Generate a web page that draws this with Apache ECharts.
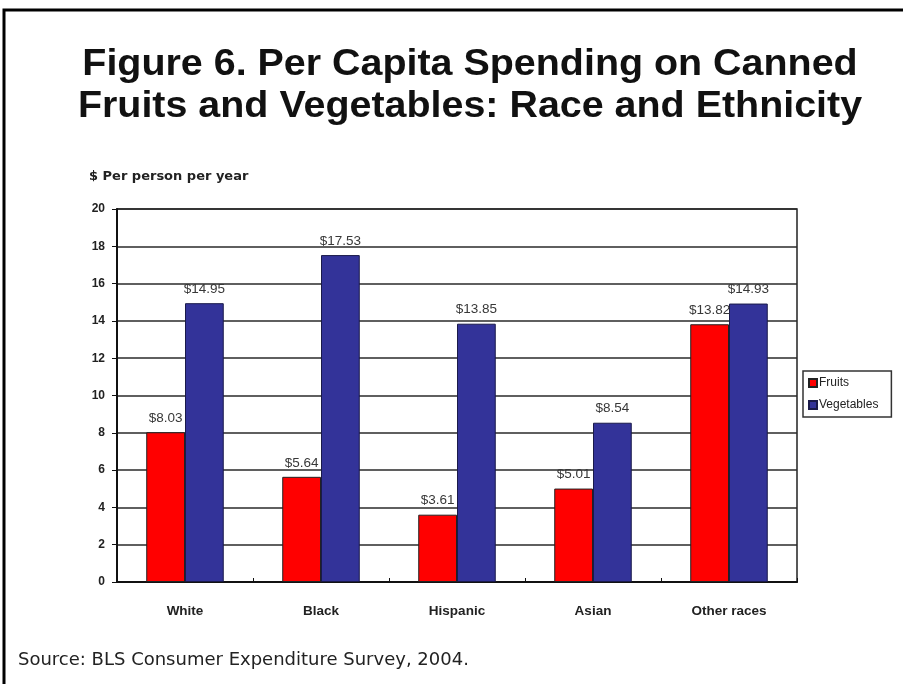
<!DOCTYPE html>
<html>
<head>
<meta charset="utf-8">
<script src="https://cdn.jsdelivr.net/npm/echarts@6/dist/echarts.min.js"></script>
<style>
  html, body { margin: 0; padding: 0; background: #fff; }
  #chart { width: 903px; height: 684px; }
</style>
</head>
<body>
<div id="chart"></div>
<script>
// Per capita spending on canned produce by race / ethnicity, 2004
const categories = ['White', 'Black', 'Hispanic', 'Asian', 'Other races'];
const fruits = [8.03, 5.64, 3.61, 5.01, 13.82];
const vegetables = [14.95, 17.53, 13.85, 8.54, 14.93];
const yTicks = [0, 2, 4, 6, 8, 10, 12, 14, 16, 18, 20];

const titleLines = [
  'Figure 6. Per Capita Spending on Canned',
  'Fruits and Vegetables: Race and Ethnicity'
];

const chart = echarts.init(document.getElementById('chart'));

const ARIAL = '"Liberation Sans", Arial, sans-serif';

const valueLabel = {
  show: true,
  position: 'top',
  distance: 7,
  color: '#383838',
  fontFamily: ARIAL,
  fontSize: 13.5,
  formatter: p => '$' + p.value.toFixed(2)
};

chart.setOption({
  animation: false,
  backgroundColor: '#fff',
  graphic: [
    {
      type: 'rect',
      shape: { x: 4, y: 10, width: 960, height: 720 },
      style: { fill: 'none', stroke: '#000', lineWidth: 3 },
      silent: true
    },
    {
      // two-line heading, slightly widened
      type: 'group',
      x: 470,
      y: 0,
      scaleX: 1.095,
      children: titleLines.map((line, i) => ({
        type: 'text',
        x: 0,
        y: 65 + i * 42,
        style: {
          text: line,
          font: 'bold 36px ' + ARIAL,
          fill: '#111',
          textAlign: 'center',
          textVerticalAlign: 'middle'
        }
      }))
    },
    {
      type: 'text',
      left: 89,
      top: 170,
      style: {
        text: '$ Per person per year',
        font: 'bold 13px "DejaVu Sans", Verdana, sans-serif',
        fill: '#222'
      }
    },
    {
      type: 'text',
      left: 18,
      top: 651,
      style: {
        text: 'Source: BLS Consumer Expenditure Survey, 2004.',
        font: '18px "DejaVu Sans", Verdana, sans-serif',
        fill: '#222'
      }
    }
  ],
  legend: {
    orient: 'vertical',
    left: 803,
    top: 371,
    icon: 'rect',
    itemWidth: 8,
    itemHeight: 8,
    itemGap: 10,
    padding: [6, 13, 6, 5],
    borderColor: '#333',
    borderWidth: 1.5,
    textStyle: {
      fontFamily: ARIAL,
      fontSize: 12,
      color: '#222',
      padding: [0, 0, 0, -3]
    },
    data: ['Fruits', 'Vegetables']
  },
  grid: {
    left: 117,
    top: 209,
    right: 106,
    bottom: 102,
    show: true,
    borderColor: '#222',
    borderWidth: 1.5
  },
  xAxis: {
    type: 'category',
    data: categories,
    axisLine: { lineStyle: { color: '#111', width: 2 } },
    axisTick: { show: true, inside: true, length: 4, lineStyle: { color: '#111' } },
    axisLabel: {
      margin: 22,
      color: '#222',
      fontWeight: 'bold',
      fontSize: 13.5,
      fontFamily: ARIAL
    }
  },
  yAxis: {
    type: 'value',
    min: yTicks[0],
    max: yTicks[yTicks.length - 1],
    interval: yTicks[1] - yTicks[0],
    axisLine: { show: true, lineStyle: { color: '#111', width: 2 } },
    axisTick: { show: true, length: 5, lineStyle: { color: '#111' } },
    axisLabel: {
      margin: 12,
      color: '#222',
      fontWeight: 'bold',
      fontSize: 12,
      fontFamily: ARIAL
    },
    splitLine: { lineStyle: { color: '#2a2a2a', width: 1.5 } }
  },
  series: [
    {
      name: 'Fruits',
      type: 'bar',
      data: fruits,
      barGap: '0%',
      barCategoryGap: '43%',
      itemStyle: { color: '#ff0000', borderColor: '#222', borderWidth: 1 },
      label: valueLabel
    },
    {
      name: 'Vegetables',
      type: 'bar',
      data: vegetables,
      itemStyle: { color: '#333399', borderColor: '#1a1a4a', borderWidth: 1 },
      label: valueLabel
    }
  ]
});
</script>
</body>
</html>
